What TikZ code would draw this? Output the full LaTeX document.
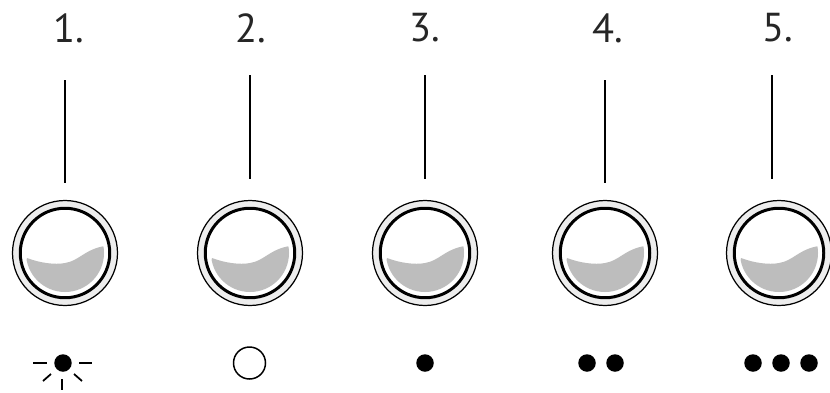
\documentclass[tikz,border=0pt]{standalone}
\usepackage{fontspec}
\setmainfont{PT Sans}
\usetikzlibrary{calc}
\tikzset{
  num/.style={font=\fontsize{23}{23}\selectfont,text=black!85},
  rim/.style={draw,circle,line width=.7pt,fill=black!7,minimum size=2.1cm,inner sep=0pt},
  glass/.style={draw,circle,line width=1.7pt,minimum size=1.79cm,inner sep=0pt},
  lamp/.style={circle,fill=black,minimum size=.35cm,inner sep=0pt},
  ray/.style={line width=1pt}
}
\begin{document}
\begin{tikzpicture}[x=.02cm,y=-.02cm]
\useasboundingbox(0,0)rectangle(830,392);
\foreach \n/\x/\lx/\ly/\tx/\b in {1/65/65/80/69/183,2/250/250/75/251/179,3/425/425/75/425/179,4/605/605/80/608/183,5/779/772/75/778/179}{
  \node[num](t\n)at(\tx,28){\n.};
  \coordinate(a\n)at(\lx,\ly);\coordinate(b\n)at(\lx,\b);\draw[line width=.85pt](a\n)--(b\n);
  \node[rim](r\n)at(\x,253){};\fill[white](\x,253)circle(44);
  \begin{scope}[shift={(\x,253)}]
  \clip(0,0)circle(39);
  \fill[black!26](-38,5)..controls(-25,10)and(-10,12)..(0,10)..controls(14,8)and(20,-4)..(40,-7)--(46,50)--(-46,50)--cycle;
  \end{scope}
  \node[glass](g\n)at(\x,253){};
}
%symbols
\node[lamp](s1)at(63,363){};
\coordinate(h1)at(33,363);\coordinate(h2)at(47,363);\draw[ray](h1)--(h2);
\coordinate(h3)at(79,363);\coordinate(h4)at(92,363);\draw[ray](h3)--(h4);
\coordinate(d1)at(43,381);\coordinate(d2)at(51,374);\draw[ray](d1)--(d2);
\coordinate(d3)at(82,381);\coordinate(d4)at(74,374);\draw[ray](d3)--(d4);
\coordinate(v1)at(62,379);\coordinate(v2)at(62,390);\draw[ray](v1)--(v2);
\node[draw,circle,line width=.85pt,minimum size=.64cm,inner sep=0pt](s2)at(249.5,363){};
\node[lamp](s3)at(425,363){};
\node[lamp](s4)at(587,363){};\node[lamp](s5)at(615,363){};
\node[lamp](s6)at(753,363){};\node[lamp](s7)at(781,363){};\node[lamp](s8)at(809,363){};
\end{tikzpicture}
\end{document}
